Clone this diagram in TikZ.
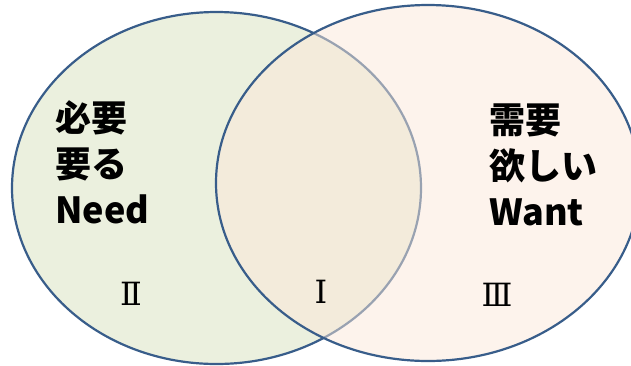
\documentclass[tikz,border=0pt]{standalone}
\usepackage{fontspec}
\newfontfamily\jpfont{Noto Sans CJK JP}
\newfontfamily\numfont{DejaVu Serif}
\usepackage{xcolor}
\definecolor{vblue}{RGB}{56,93,138}
\definecolor{lgreen}{RGB}{235,240,222}
\definecolor{lpeach}{RGB}{251,231,217}
\usepackage{tikz}

\begin{document}
\begin{tikzpicture}[
  x=1pt,y=-1pt,
  ring/.style={draw=vblue,line width=2.2pt},
  tbox/.style={anchor=north west,align=left,inner sep=0pt,font=\jpfont\bfseries\fontsize{36}{46}\selectfont},
  nbox/.style={inner sep=0pt,font=\numfont\fontsize{32}{32}\selectfont}
]
  \useasboundingbox (0,0) rectangle (631,365);
  \clip (0,0) rectangle (631,365);

  % === Two sets ===
  \draw[ring,fill=lgreen] (216.5,188) ellipse [x radius=204.5,y radius=176];
  \fill[lpeach,fill opacity=0.5] (428,183) ellipse [x radius=212,y radius=178];
  \draw[ring] (428,183) ellipse [x radius=212,y radius=178];

  % === Labels ===
  \node[tbox] (need) at (55,100) {必要\\要る\\Need};
  \node[tbox] (want) at (489,104) {需要\\欲しい\\Want};

  \node[nbox] (r2) at (131,294) {Ⅱ};
  \node[nbox] (r1) at (321,292) {Ⅰ};
  \node[nbox] (r3) at (497,295) {Ⅲ};
\end{tikzpicture}
\end{document}
